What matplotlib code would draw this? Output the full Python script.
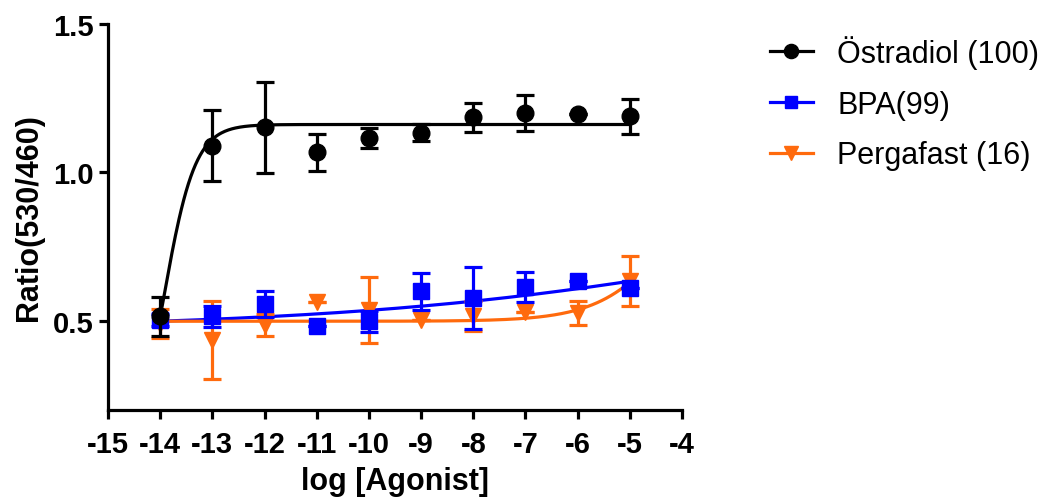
import matplotlib
matplotlib.use('Agg')
import matplotlib.pyplot as plt
import numpy as np

plt.rcParams['font.family'] = ['Liberation Sans', 'DejaVu Sans']
plt.rcParams['axes.unicode_minus'] = False
plt.rcParams['axes.linewidth'] = 2.3
plt.rcParams['xtick.major.width'] = 2.3
plt.rcParams['ytick.major.width'] = 2.3
plt.rcParams['xtick.major.size'] = 6.5
plt.rcParams['ytick.major.size'] = 6.5

############################################
# Data
log_agonist = [-14, -13, -12, -11, -10, -9, -8, -7, -6, -5]

estradiol = [0.515, 1.089, 1.151, 1.067, 1.115, 1.134, 1.185, 1.199, 1.196, 1.188]
estradiol_err = [0.065, 0.12, 0.152, 0.062, 0.034, 0.03, 0.05, 0.06, 0.0, 0.06]

bpa = [0.503, 0.515, 0.556, 0.481, 0.498, 0.599, 0.577, 0.613, 0.633, 0.610]
bpa_err = [0.02, 0.035, 0.045, 0.0, 0.035, 0.063, 0.105, 0.05, 0.0, 0.0]

pergafast = [0.49, 0.435, 0.487, 0.562, 0.536, 0.503, 0.515, 0.53, 0.526, 0.633]
pergafast_err = [0.05, 0.13, 0.037, 0.0, 0.11, 0.0, 0.05, 0.0, 0.04, 0.085]

# fitted curve parameters (bottom, top, logEC50, hill) of the original fit
estradiol_fit = [0.0, 1.161, -13.93, 1.45]
bpa_fit = [0.471, 1.04, -1.0, 0.1]
pergafast_fit = [0.498, 1.16, -3.99, 0.6]

labels = ['Östradiol (100)', 'BPA(99)', 'Pergafast (16)']
colors = ['#000000', '#0000FF', '#FF6A0D']
markers = ['o', 's', 'v']
msizes = [12, 11, 12]
############################################

def Hill(x, p):
  bottom, top, logec50, hill = p
  return bottom + (top - bottom)/(1.0 + 10**((logec50 - x)*hill))

def Plot():
  fig = plt.figure(figsize=(10.46, 5.02), dpi=100)
  ax = fig.add_axes([108/1046, 1-410.7/502, 574/1046, 385.8/502])

  series = [(estradiol, estradiol_err, estradiol_fit),
            (bpa, bpa_err, bpa_fit),
            (pergafast, pergafast_err, pergafast_fit)]

  xfit = np.linspace(log_agonist[0], log_agonist[-1], 400)
  handles = [None]*3
  # draw orange first, black last
  for i in [2, 1, 0]:
    y, err, p = series[i]
    ax.plot(xfit, Hill(xfit, p), color=colors[i], lw=2.3, zorder=2+i*0.1)
    ax.errorbar(log_agonist, y, yerr=err, fmt=markers[i], color=colors[i],
                ms=msizes[i], elinewidth=2.3, capsize=6.5, capthick=2.3, zorder=3+(2-i))
    h, = ax.plot([], [], color=colors[i], marker=markers[i], ms=msizes[i]*0.85, lw=2.3)
    handles[i] = h

  ax.set_xlim(-15, -4)
  ax.set_ylim(0.2, 1.5)
  ax.set_xticks(np.arange(-15, -3, 1))
  ax.set_yticks([0.5, 1.0, 1.5])
  ax.set_yticklabels(['0.5', '1.0', '1.5'])
  ax.spines['top'].set_visible(False)
  ax.spines['right'].set_visible(False)
  ax.tick_params(labelsize=21)
  ax.tick_params(axis='x', pad=8)
  ax.tick_params(axis='y', pad=4)
  for t in ax.get_xticklabels() + ax.get_yticklabels():
    t.set_fontweight('bold')

  ax.set_xlabel('log [Agonist]', fontsize=22, fontweight='bold', labelpad=6)
  ax.set_ylabel('Ratio(530/460)', fontsize=22, fontweight='bold', labelpad=6)

  fig.legend(handles, labels, loc='upper left', bbox_to_anchor=(770/1046, 1-36/502),
             frameon=False, fontsize=22, handlelength=1.4, handletextpad=0.8,
             labelspacing=0.68, borderpad=0, borderaxespad=0)

  fig.savefig('out.png', dpi=100)

if __name__ == '__main__':
  Plot()
